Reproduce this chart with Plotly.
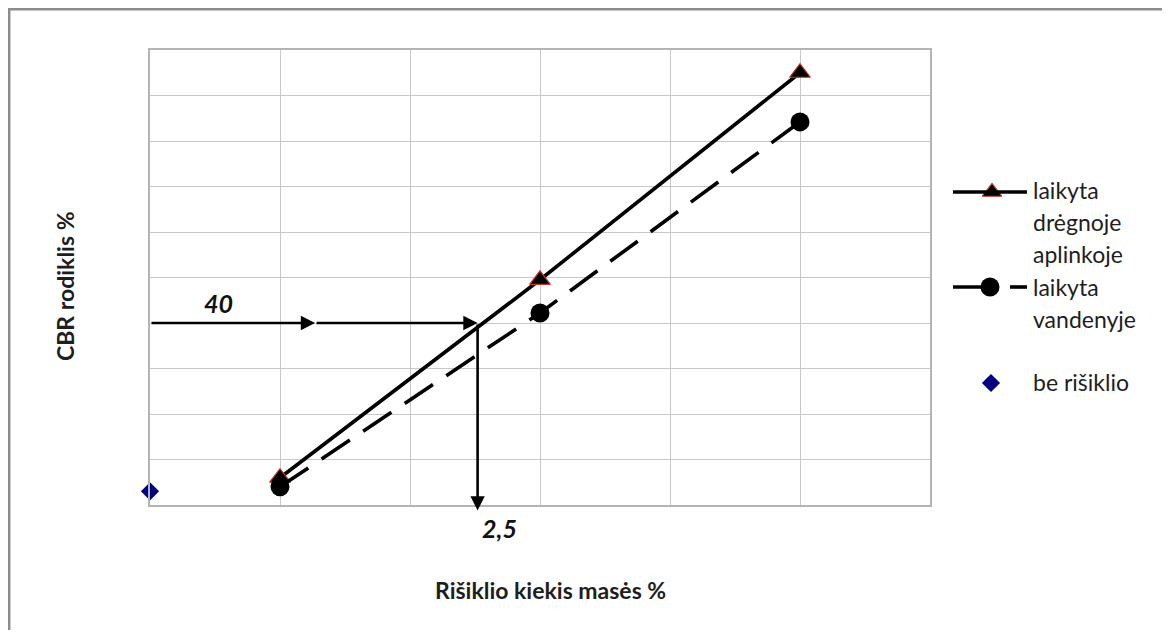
import plotly.graph_objects as go

# ---- data ----
x_binder = [1, 3, 5]
cbr_humid = [6, 49.5, 95]      # laikyta drėgnoje aplinkoje
cbr_water = [4, 42.2, 84.2]    # laikyta vandenyje
x_none = [0]
cbr_none = [3]                 # be rišiklio

target_cbr = 40
target_binder = 2.52
arrow_mid_x = 1.27
arrow_bottom_y = -1.2

x_ticks = [0, 1, 2, 3, 4, 5, 6]
y_ticks = [0, 10, 20, 30, 40, 50, 60, 70, 80, 90, 100]

names = ["laikyta drėgnoje aplinkoje", "laikyta vandenyje", "be rišiklio"]

FONT = "Lato"
OFF = 8                       # browser body margin
W, H = 1170 - OFF, 638 - 16   # figure size inside the page
L, R, T, B = 150, 930, 50, 505  # plot area in reference page pixels
ml = L - OFF
mt = T - OFF
mb = H - (B - OFF)
mr = 0
pw = W - ml - mr              # paper width in px


def fx(xp):  # reference page px -> paper x
    return (xp - L) / pw


def fy(yp):  # reference page px -> paper y
    return (B - yp) / (B - T)


fig = go.Figure()

# ---- manual legend: overlay axes measured in reference page pixels (drawn first) ----
leg_marker_x = [992, 990, 991]
leg_marker_y = [192, 287, 383]
fig.add_trace(go.Scatter(
    x=[leg_marker_x[0]], y=[leg_marker_y[0]], mode="markers", xaxis="x2", yaxis="y2",
    marker=dict(symbol="triangle-up", size=17, color="black",
                line=dict(color="#c0392b", width=1.2)),
    showlegend=False, cliponaxis=False, hoverinfo="skip"))
fig.add_trace(go.Scatter(
    x=[leg_marker_x[1]], y=[leg_marker_y[1]], mode="markers", xaxis="x2", yaxis="y2",
    marker=dict(symbol="circle", size=19, color="black"),
    showlegend=False, cliponaxis=False, hoverinfo="skip"))
fig.add_trace(go.Scatter(
    x=[leg_marker_x[2]], y=[leg_marker_y[2]], mode="markers", xaxis="x2", yaxis="y2",
    marker=dict(symbol="diamond", size=14, color="#000080"),
    showlegend=False, cliponaxis=False, hoverinfo="skip"))

fig.add_trace(go.Scatter(
    x=x_binder, y=cbr_humid, mode="lines+markers", name=names[0],
    line=dict(color="black", width=3.6),
    marker=dict(symbol="triangle-up", size=18, color="black",
                line=dict(color="#c0392b", width=1.2)),
    showlegend=False, cliponaxis=False))

fig.add_trace(go.Scatter(
    x=x_binder, y=cbr_water, mode="lines+markers", name=names[1],
    line=dict(color="black", width=3.6, dash="34px,16px"),
    marker=dict(symbol="circle", size=19, color="black"),
    showlegend=False, cliponaxis=False))

fig.add_trace(go.Scatter(
    x=x_none, y=cbr_none, mode="markers", name=names[2],
    marker=dict(symbol="diamond", size=14, color="#000080"),
    showlegend=False, cliponaxis=False))

shapes = [
    # outer frame
    dict(type="rect", xref="paper", yref="paper",
         x0=fx(9.2), x1=fx(1168.8), y0=fy(700), y1=fy(9.2),
         line=dict(color="#8c8c8c", width=2.5), fillcolor="rgba(0,0,0,0)"),
    # legend line samples
    dict(type="line", xref="paper", yref="paper",
         x0=fx(953), x1=fx(1027), y0=fy(192), y1=fy(192),
         line=dict(color="black", width=3.6)),
    dict(type="line", xref="paper", yref="paper",
         x0=fx(953), x1=fx(990), y0=fy(287), y1=fy(287),
         line=dict(color="black", width=3.6)),
    dict(type="line", xref="paper", yref="paper",
         x0=fx(1010), x1=fx(1027), y0=fy(287), y1=fy(287),
         line=dict(color="black", width=3.6)),
]

annotations = []
TXT = "#1e1e1e"
leg_lines = [("laikyta", 190), ("drėgnoje", 222), ("aplinkoje", 254),
             ("laikyta", 287), ("vandenyje", 319), ("be rišiklio", 382)]
for txt, yy in leg_lines:
    annotations.append(dict(text=txt, xref="paper", yref="paper",
                            x=fx(1031), y=fy(yy), xanchor="left", yanchor="middle",
                            showarrow=False, font=dict(family=FONT, size=23, color=TXT)))

# axis titles
annotations.append(dict(text="<b>Rišiklio kiekis masės %</b>", xref="paper", yref="paper",
                        x=fx(550), y=fy(590), xanchor="center", yanchor="middle",
                        showarrow=False, font=dict(family=FONT, size=23, color=TXT)))
annotations.append(dict(text="<b>CBR rodiklis %</b>", xref="paper", yref="paper",
                        x=fx(65), y=fy(286), xanchor="center", yanchor="middle",
                        textangle=-90, showarrow=False,
                        font=dict(family=FONT, size=23, color=TXT)))

# reading arrows
arrow_style = dict(showarrow=True, arrowhead=2, arrowsize=1.1, arrowwidth=2.6,
                   arrowcolor="black", axref="x", ayref="y", xref="x", yref="y", text="")
annotations.append(dict(x=arrow_mid_x, y=target_cbr, ax=0, ay=target_cbr, **arrow_style))
annotations.append(dict(x=target_binder, y=target_cbr, ax=arrow_mid_x, ay=target_cbr, **arrow_style))
annotations.append(dict(x=target_binder, y=arrow_bottom_y, ax=target_binder, ay=target_cbr, **arrow_style))

annotations.append(dict(text="<b><i>40</i></b>", xref="paper", yref="paper",
                        x=fx(202), y=fy(303), showarrow=False,
                        font=dict(family=FONT, size=25, color="#111")))
annotations.append(dict(text="<b><i>2,5</i></b>", xref="paper", yref="paper",
                        x=fx(480), y=fy(545), showarrow=False,
                        font=dict(family=FONT, size=25, color="#111")))

fig.update_layout(
    width=W, height=H,
    margin=dict(l=ml, r=mr, t=mt, b=mb, pad=0),
    paper_bgcolor="white", plot_bgcolor="rgba(0,0,0,0)",
    showlegend=False,
    shapes=shapes, annotations=annotations,
    xaxis=dict(domain=[0, (R - L) / pw], range=[x_ticks[0], x_ticks[-1]], tickvals=x_ticks,
               showticklabels=False, showgrid=True, gridcolor="#c8c8c8", gridwidth=1,
               zeroline=False, showline=True, mirror=True, linecolor="#b4b4b4",
               linewidth=1.5, ticks="", fixedrange=True),
    yaxis=dict(range=[y_ticks[0], y_ticks[-1]], tickvals=y_ticks, showticklabels=False,
               showgrid=True, gridcolor="#c8c8c8", gridwidth=1, zeroline=False,
               showline=True, mirror=True, linecolor="#b4b4b4", linewidth=1.5, ticks="",
               fixedrange=True),
    xaxis2=dict(domain=[0, 1], range=[L, L + pw], anchor="y2", visible=False,
                showgrid=False, fixedrange=True),
    yaxis2=dict(domain=[0, 1], range=[B, T], anchor="x2", visible=False,
                showgrid=False, fixedrange=True),
)

fig.write_html("out.html")
